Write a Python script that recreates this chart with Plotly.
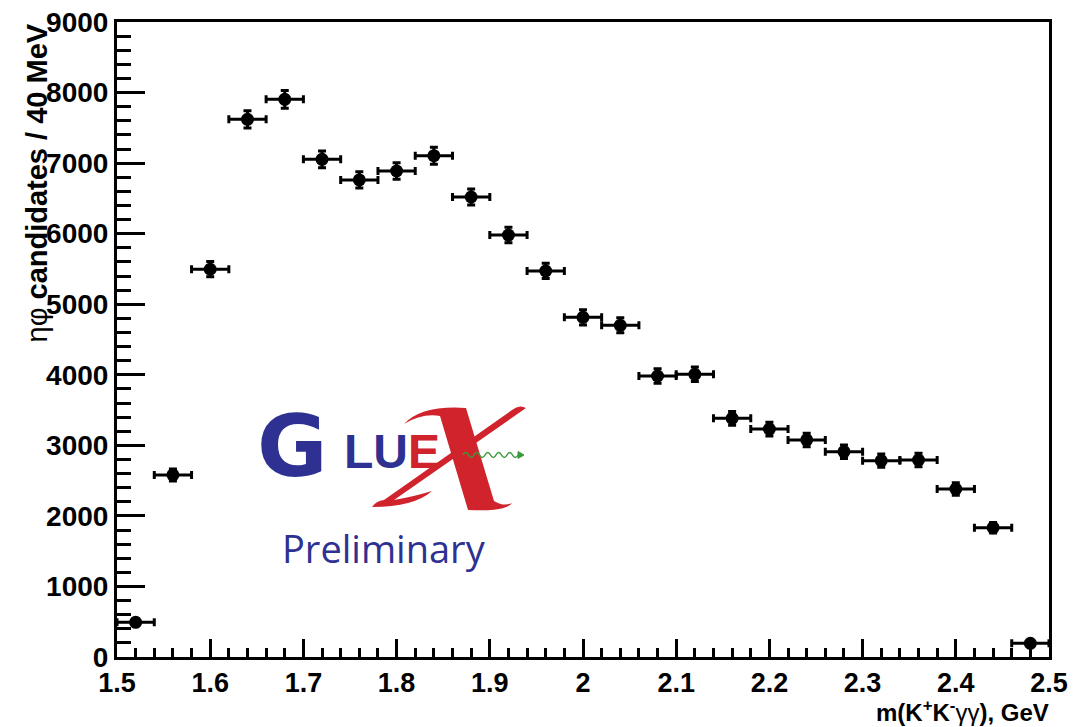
import plotly.graph_objects as go

# ---- data ----
mass = [1.52, 1.56, 1.60, 1.64, 1.68, 1.72, 1.76, 1.80, 1.84, 1.88, 1.92, 1.96, 2.00,
        2.04, 2.08, 2.12, 2.16, 2.20, 2.24, 2.28, 2.32, 2.36, 2.40, 2.44, 2.48]
counts = [492, 2580, 5496, 7620, 7904, 7054, 6761, 6888, 7105, 6520, 5980, 5471, 4815,
          4701, 3983, 4007, 3383, 3231, 3076, 2910, 2783, 2792, 2381, 1833, 194]
count_err = [45, 85, 108, 122, 125, 118, 115, 117, 120, 113, 110, 108, 108,
             106, 103, 103, 98, 97, 96, 95, 95, 95, 90, 75, 30]
bin_halfwidth = [0.02] * len(mass)

x_ticks = [1.5, 1.6, 1.7, 1.8, 1.9, 2.0, 2.1, 2.2, 2.3, 2.4, 2.5]
x_ticklabels = ["1.5", "1.6", "1.7", "1.8", "1.9", "2", "2.1", "2.2", "2.3", "2.4", "2.5"]
y_ticks = [0, 1000, 2000, 3000, 4000, 5000, 6000, 7000, 8000, 9000]

# ---- layout geometry (pixels) ----
W, H = 1074, 727
L, R, T, B = 117, 25, 22, 70
PW, PH = W - L - R, H - T - B

def px(x):
    return (x - L) / PW

def py(y):
    return (T + PH - y) / PH

def path(cmds):
    out = []
    for c in cmds:
        if isinstance(c, str):
            out.append(c)
        else:
            out.append(f"{px(c[0]):.5f},{py(c[1]):.5f}")
    return " ".join(out)

BLUE = "#2e3192"
RED = "#d0232b"
GREEN = "#3a9a3a"

fig = go.Figure()
fig.add_trace(go.Scatter(
    x=mass, y=counts, mode="markers",
    marker=dict(color="black", size=13, symbol="circle"),
    error_y=dict(type="data", array=count_err, visible=True, color="black",
                 thickness=3, width=4),
    error_x=dict(type="data", array=bin_halfwidth, visible=True, color="black",
                 thickness=3, width=4),
    showlegend=False, hoverinfo="x+y",
))

shapes = []
# stylised X of the logo: thick "\" stroke with swashes
shapes.append(dict(type="path", xref="paper", yref="paper", layer="above",
                   fillcolor=RED, line=dict(width=0),
                   path=path(["M", (404, 424), "Q", (422, 405), (466, 408),
                              "L", (494, 501), "Q", (504, 507), (512, 503),
                              "Q", (506, 512), (468, 510),
                              "L", (440, 416), "Q", (422, 413), (404, 424), "Z"])))
# thin "/" stroke with bottom-left swash and top hook
shapes.append(dict(type="path", xref="paper", yref="paper", layer="above",
                   fillcolor=RED, line=dict(width=0),
                   path=path(["M", (512, 410), "Q", (519, 404), (526, 408),
                              "L", (394, 500), "Q", (412, 497), (432, 491),
                              "Q", (414, 507), (372, 507),
                              "Q", (376, 501), (384, 500), "Z"])))
# green wavy photon line
wave = ["M", (463, 455)]
x0 = 463.0
for i in range(5):
    wave += ["Q", (x0 + 2.75, 450), (x0 + 5.5, 455), "Q", (x0 + 8.25, 460), (x0 + 11, 455)]
    x0 += 11
shapes.append(dict(type="path", xref="paper", yref="paper", layer="above",
                   line=dict(color=GREEN, width=1.5), path=path(wave)))
shapes.append(dict(type="path", xref="paper", yref="paper", layer="above",
                   fillcolor=GREEN, line=dict(color=GREEN, width=1),
                   path=path(["M", (524, 455), "L", (518, 451.5), "L", (518, 458.5), "Z"])))

annotations = [
    # y axis title
    dict(text="ηφ <b>candidates / 40 MeV</b>", xref="paper", yref="paper",
         x=px(36), y=1.0, xanchor="center", yanchor="top", textangle=-90,
         showarrow=False, font=dict(family="Liberation Sans", size=29, color="black")),
    # x axis title
    dict(text="<b>m(K<sup>+</sup>K<sup>-</sup></b>γγ<b>), GeV</b>", xref="paper", yref="paper",
         x=px(1051), y=py(711), xanchor="right", yanchor="middle",
         showarrow=False, font=dict(family="Liberation Sans", size=24, color="black")),
    # logo letters
    dict(text="<b>G</b>", xref="paper", yref="paper", x=px(292), y=py(446),
         xanchor="center", yanchor="middle", showarrow=False,
         font=dict(family="DejaVu Sans", size=86, color=BLUE)),
    dict(text=f"<b>LU<span style='color:{RED}'>E</span></b>", xref="paper", yref="paper",
         x=px(342), y=py(451), xanchor="left", yanchor="middle", showarrow=False,
         font=dict(family="Liberation Sans", size=48, color=BLUE)),
    dict(text="Preliminary", xref="paper", yref="paper", x=px(384), y=py(548),
         xanchor="center", yanchor="middle", showarrow=False,
         font=dict(family="Open Sans", size=38, color=BLUE)),
]

tickfont = dict(family="Liberation Sans", size=28, color="black", weight="bold")
xtickfont = dict(family="Liberation Sans", size=27, color="black", weight="bold")

fig.update_layout(
    width=W, height=H,
    margin=dict(l=L, r=R, t=T, b=B, pad=0, autoexpand=False),
    paper_bgcolor="white", plot_bgcolor="white",
    shapes=shapes, annotations=annotations,
    xaxis=dict(range=[1.5, 2.5], tickvals=x_ticks, ticktext=x_ticklabels,
               automargin=False,
               showgrid=False, zeroline=False, showline=True, mirror=True,
               linecolor="black", linewidth=3,
               ticks="inside", ticklen=18, tickwidth=3, tickcolor="black",
               minor=dict(ticks="inside", ticklen=9, tickwidth=3, tickcolor="black",
                          dtick=0.02, showgrid=False),
               tickfont=xtickfont, ticklabelstandoff=0),
    yaxis=dict(range=[0, 9000], tickvals=y_ticks,
               automargin=False,
               showgrid=False, zeroline=False, showline=True, mirror=True,
               linecolor="black", linewidth=3,
               ticks="inside", ticklen=28, tickwidth=3, tickcolor="black",
               minor=dict(ticks="inside", ticklen=14, tickwidth=3, tickcolor="black",
                          dtick=200, showgrid=False),
               tickfont=tickfont),
)

fig.write_html("out.html")
